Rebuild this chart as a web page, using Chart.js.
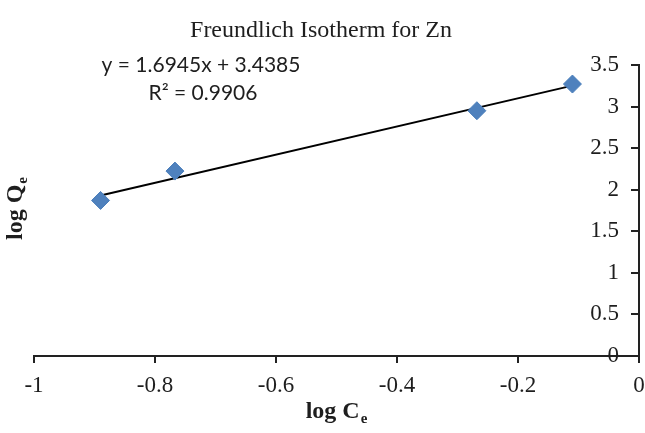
<!DOCTYPE html>
<html>
<head>
<meta charset="utf-8">
<script src="https://cdn.jsdelivr.net/npm/chart.js@4.4.1/dist/chart.umd.min.js"></script>
<style>
  html, body { margin: 0; padding: 0; background: #ffffff; }
  #wrap { width: 645px; height: 433px; position: relative; }
</style>
</head>
<body>
<div id="wrap"><canvas id="c" width="645" height="433"></canvas></div>
<script>
// ---- data ----
const chartTitle = 'Freundlich Isotherm for Zn';
const logCe = [-0.89, -0.767, -0.268, -0.110];
const logQe = [1.871, 2.224, 2.950, 3.271];
const trendX = [-0.89, -0.11];
const trendY = [1.930, 3.252];
const xTickLabels = ['-1', '-0.8', '-0.6', '-0.4', '-0.2', '0'];
const yTickLabels = ['0', '0.5', '1', '1.5', '2', '2.5', '3', '3.5'];
const equationLines = ['y = 1.6945x + 3.4385', 'R\u00B2 = 0.9906'];
const xTitle = ['log C', 'e'];
const yTitle = ['log Q', 'e'];

const scatterPts = logCe.map((x, i) => ({ x: x, y: logQe[i] }));
const trendPts = trendX.map((x, i) => ({ x: x, y: trendY[i] }));

const SERIF = "'Liberation Serif', 'Times New Roman', serif";
const SANS = "Lato, 'Open Sans', sans-serif";
const INK = '#1e1e1e';

function drawSubText(ctx, main, sub, cx, baseY, size) {
  ctx.font = 'bold ' + size + 'px ' + SERIF;
  const w1 = ctx.measureText(main).width;
  const subSize = Math.round(size * 0.62);
  ctx.font = 'bold ' + subSize + 'px ' + SERIF;
  const w2 = ctx.measureText(sub).width;
  const start = cx - (w1 + w2) / 2;
  ctx.textAlign = 'left';
  ctx.textBaseline = 'alphabetic';
  ctx.font = 'bold ' + size + 'px ' + SERIF;
  ctx.fillText(main, start, baseY);
  ctx.font = 'bold ' + subSize + 'px ' + SERIF;
  ctx.fillText(sub, start + w1 + 1, baseY + size * 0.22);
}

// place y tick labels to the left of the (value-positioned) y axis, with a gap
const yLabelGap = {
  id: 'yLabelGap',
  beforeDraw(chart) {
    const ys = chart.scales.y;
    const axisX = chart.scales.x.getPixelForValue(0);
    const items = ys.getLabelItems(chart.chartArea);
    items.forEach(it => {
      it.options.translation[0] = axisX - 20;
      it.options.textAlign = 'right';
    });
  }
};

const textPlugin = {
  id: 'texts',
  afterDraw(chart) {
    const ctx = chart.ctx;
    ctx.save();
    ctx.fillStyle = INK;
    // title
    ctx.font = '24px ' + SERIF;
    ctx.textAlign = 'center';
    ctx.textBaseline = 'alphabetic';
    ctx.fillText(chartTitle, 321, 37);
    // trendline equation
    ctx.font = '21px ' + SANS;
    ctx.fillText(equationLines[0], 201, 72);
    ctx.fillText(equationLines[1], 203, 100);
    // x title
    drawSubText(ctx, xTitle[0], xTitle[1], 336, 418, 24);
    // y title
    ctx.save();
    ctx.translate(22, 209);
    ctx.rotate(-Math.PI / 2);
    drawSubText(ctx, yTitle[0], yTitle[1], 0, 0, 24);
    ctx.restore();
    ctx.restore();
  }
};

new Chart(document.getElementById('c'), {
  type: 'scatter',
  data: {
    datasets: [
      {
        label: 'trend',
        type: 'line',
        data: trendPts,
        borderColor: '#000000',
        borderWidth: 2,
        pointRadius: 0,
        fill: false,
        order: 2
      },
      {
        label: 'log Qe',
        data: scatterPts,
        pointStyle: 'rectRot',
        pointRadius: 9,
        pointHoverRadius: 9,
        backgroundColor: '#4F81BD',
        borderColor: '#4A7EBB',
        borderWidth: 1,
        order: 1
      }
    ]
  },
  options: {
    responsive: false,
    animation: false,
    events: [],
    layout: { autoPadding: false, padding: { top: 65, left: 34, right: 6, bottom: 0 } },
    plugins: {
      legend: { display: false },
      title: { display: false },
      tooltip: { enabled: false }
    },
    scales: {
      x: {
        type: 'linear',
        position: 'bottom',
        min: -1,
        max: 0,
        afterFit(scale) {
          scale.height = 77;
          scale.paddingLeft = 0;
          scale.paddingRight = 0;
        },
        ticks: {
          stepSize: 0.2,
          color: INK,
          font: { family: SERIF, size: 23 },
          padding: 9,
          maxRotation: 0,
          callback: (v, i) => xTickLabels[i]
        },
        grid: { drawOnChartArea: false, drawTicks: true, tickLength: 7, color: '#222', lineWidth: 2 },
        border: { display: true, color: '#222', width: 2 }
      },
      y: {
        type: 'linear',
        position: { x: 0 },
        min: 0,
        max: 3.5,
        ticks: {
          stepSize: 0.5,
          color: INK,
          font: { family: SERIF, size: 23 },
          padding: 13,
          callback: (v, i) => yTickLabels[i]
        },
        grid: { drawOnChartArea: false, drawTicks: true, tickLength: 7, color: '#222', lineWidth: 2 },
        border: { display: true, color: '#222', width: 2 }
      }
    }
  },
  plugins: [yLabelGap, textPlugin]
});
</script>
</body>
</html>
